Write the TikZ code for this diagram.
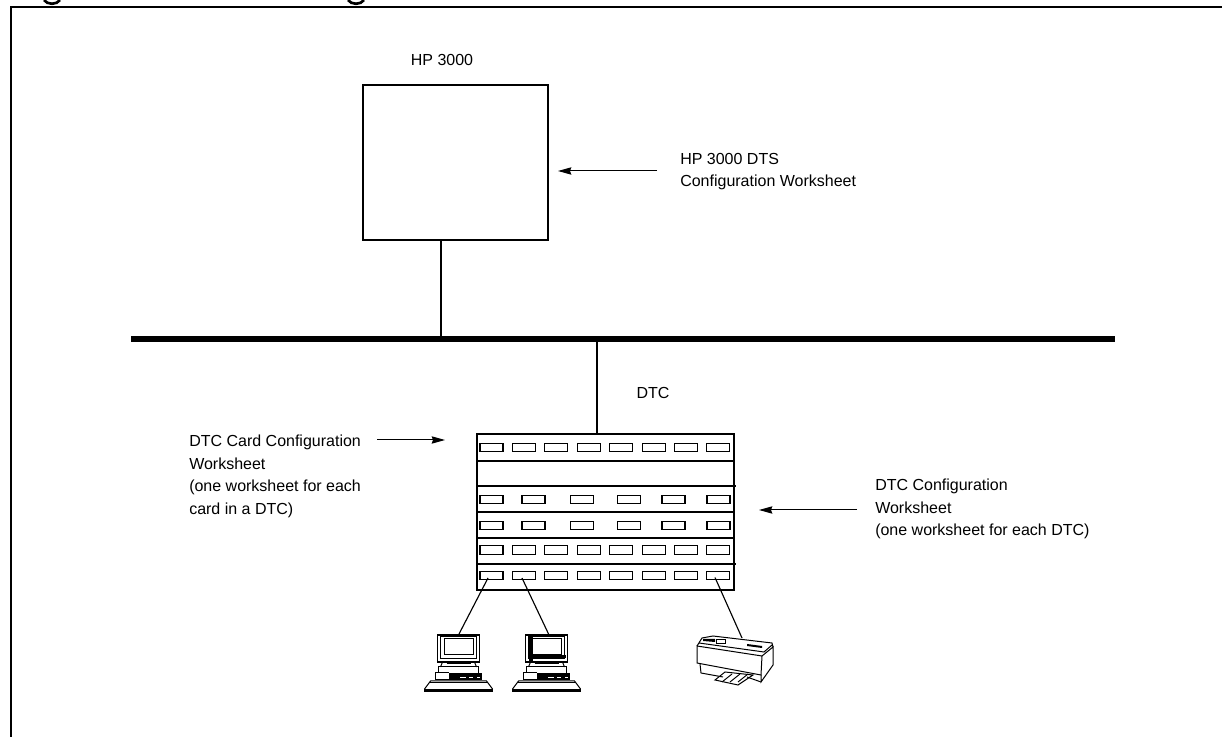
\documentclass[tikz,border=0pt]{standalone}
\usepackage{fontspec}
\setmainfont{Liberation Sans}
\usetikzlibrary{arrows.meta}
\newcommand{\Terminal}[2]{% name, centre x
\begin{scope}[shift={(#2,692)}]
\fill (-34.5,-3) rectangle (34.5,0);
\draw[part] (-34,-3) -- (-28,-11) -- (28,-11) -- (34,-3);
\draw[part] (-29,-9) -- (29,-9);
\fill (-10,-19) rectangle (23,-12);
\draw[part] (-23,-12) -- (-23,-19) -- (-10,-19);
\draw[part] (-23,-12) -- (-10,-12);
\fill[white] (1.5,-15) rectangle (7,-14);
\fill[white] (10,-15) rectangle (14,-14);
\fill[white] (18,-15) rectangle (21,-14);
\draw[part] (-20,-19) -- (-20,-25) -- (20,-25) -- (20,-19);
\draw[part] (-16,-30) -- (-18,-25);
\draw[part] (16,-30) -- (18,-25);
\draw[part] (-12,-28) -- (12,-28);
\draw[part,line width=1.2pt] (-21,-57) rectangle (21,-30);
\draw[part] (-18,-55) rectangle (18,-33);
\draw[part] (-14.5,-53) rectangle (14.5,-37);
\coordinate (#1) at (0,-57);
\end{scope}
}
\tikzset{
  note/.style={inner sep=0pt,anchor=north west,align=left,font=\fontsize{12pt}{16.9pt}\selectfont},
  slot/.style={draw,line width=0.85pt,minimum width=17.25pt,minimum height=6.6pt,inner sep=0pt,outer sep=0pt},
  part/.style={line width=0.75pt},
  pointer/.style={line width=0.75pt,-{Stealth[length=10pt,width=5.5pt,inset=1pt]}}
}
\begin{document}
\begin{tikzpicture}[x=0.75pt,y=-0.75pt,>=stealth]
\useasboundingbox (0,0) rectangle (1222,737);
\draw [line width=1.8pt] (11,737) -- (11,7) -- (1222,7);
% what is left of the heading above the frame
\draw [line width=2pt] (44,0) .. controls (47,5) and (57,5) .. (60,0);
\draw [line width=2pt] (348,0) .. controls (351,5) and (361,5) .. (364,0);

\node [draw, line width=0.85pt, minimum width=138.75pt, minimum height=116.25pt, inner sep=0pt, outer sep=0pt] (hp3000) at (455.5,162.5) {};
\node [note, anchor=center] (hp3000label) at (442,60) {HP 3000};
\node [note] (dtsnote) at (680,153) {HP 3000 DTS\\Configuration Worksheet};
\coordinate (dtstail) at (657,171);
\coordinate (dtstip) at (558,171);
\draw [pointer] (dtstail) -- (dtstip);

% the bus
\coordinate (busleft) at (131,339);
\coordinate (busright) at (1115,339);
\draw [line width=4.5pt] (busleft) -- (busright);
\coordinate (hpdrop) at (441,240);
\draw [line width=0.85pt] (hpdrop) -- (hpdrop |- busleft);

% the rack
\node [draw, line width=0.85pt, minimum width=192.75pt, minimum height=117pt, inner sep=0pt, outer sep=0pt] (dtc) at (605.5,512) {};
\coordinate (dtcdrop) at (597,434);
\draw [line width=0.85pt] (dtcdrop |- busleft) -- (dtcdrop);
\node [note, anchor=center] (dtclabel) at (653,393) {DTC};
\foreach \y/\xend in {461/734,486/736,512/734,538/734,564/736}
  \draw [line width=0.85pt] (477,\y) -- (\xend,\y);

% slots
\foreach \row/\y in {1/447.5,5/550,6/575.5}
  \foreach \n/\x in {1/491.5,2/524,3/556,4/589,5/621,6/654,7/686,8/718}
    \node [slot] (slot\row-\n) at (\x,\y) {};
\foreach \row/\y in {3/499.5,4/525.5}
  \foreach \n/\x in {1/491.5,2/533.5,3/582,4/629,5/673.5,6/718.5}
    \node [slot] (slot\row-\n) at (\x,\y) {};

\node [note] (cardnote) at (189,435) {DTC Card Configuration\\Worksheet\\(one worksheet for each\\card in a DTC)};
\coordinate (cardtail) at (377,440);
\coordinate (cardtip) at (445,440);
\draw [pointer] (cardtail) -- (cardtip);

\node [note] (dtcnote) at (875,479) {DTC Configuration\\Worksheet\\(one worksheet for each DTC)};
\coordinate (dtctail) at (857,510);
\coordinate (dtctip) at (759,510);
\draw [pointer] (dtctail) -- (dtctip);

% terminals
\Terminal{pcone}{458.5}
\Terminal{pctwo}{546.5}
\fill (529,636) rectangle (533,662);
\fill (533,655) rectangle (566,658);
\draw [line width=0.85pt] ([shift={(-3.5,2.5)}]slot6-1.center) -- (pcone);
\draw [line width=0.85pt] ([shift={(-2,2.5)}]slot6-2.center) -- ([shift={(3,1)}]pctwo);

% printer
\draw [part] (697,646) -- (762,656) -- (761,675) -- (697,663) -- cycle;
\draw [part] (762,656) -- (773,647) -- (773,665) -- (761,682) -- (761,675);
\draw [part] (697,646) -- (702,638) -- (713,636) -- (772,643) -- (773,647);
\draw [part] (699,643) -- (764,652) -- (772,645);
\fill (703,639) -- (715,639) -- (715,642) -- (703,641) -- cycle;
\fill (747,644) -- (762,646) -- (762,648) -- (747,646) -- cycle;
\draw [part] (716,640) rectangle (725,644);
\draw [part] (700,664) -- (701,673) -- (723,677);
\draw [part] (747,677) -- (761,682);
\draw [part] (715,680) -- (725,672) -- (753,675) -- (738,685) -- cycle;
\foreach \x in {0,8,16}
  \draw [part] (722+\x,682) -- (732+\x,674);
\coordinate (printertop) at (742,638);
\draw [line width=0.85pt] ([shift={(-3,2)}]slot6-8.center) -- (printertop);
\end{tikzpicture}
\end{document}
